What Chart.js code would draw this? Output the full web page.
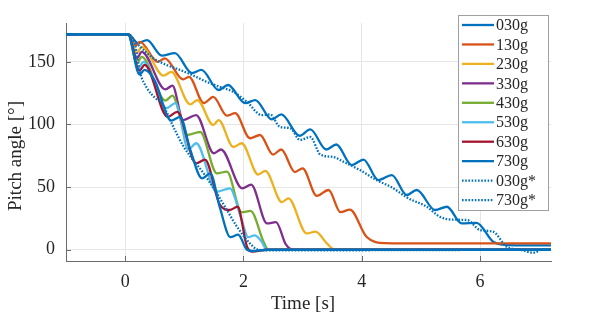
<!DOCTYPE html>
<html lang="en">
<head>
    <meta charset="UTF-8">
    <title>Pitch angle</title>
    <script src="https://cdn.jsdelivr.net/npm/chart.js"></script>
    <style>
        body { margin: 0; background: #fff; }
        canvas { display: block; }
    </style>
</head>
<body>
    <canvas id="pitchChart" width="598" height="315"></canvas>

    <script>
        // tick labels
        const xTicks = [0, 2, 4, 6];
        const yTicks = [0, 50, 100, 150];
        const names = ['030g', '130g', '230g', '330g', '430g', '530g', '630g', '730g', '030g*', '730g*'];

        // series: time [s] / pitch [deg]
        const t030 = [-1, 0.05, 0.22, 0.37, 0.62, 0.84, 1.13, 1.29, 1.58, 1.74, 2.03, 2.2, 2.48, 2.64, 2.95, 3.13, 3.4, 3.57, 3.83, 4.03, 4.28, 4.51, 4.76, 4.93, 5.24, 5.44, 5.69, 5.94, 6.22, 6.39, 6.6, 7.2];
        const p030 = [172, 172, 165, 167.4, 155, 157, 141, 143.5, 127.5, 131.5, 117, 119.5, 104, 108, 91, 96, 80, 84, 67.6, 72, 55.6, 59.6, 43.7, 47.7, 31.7, 34.3, 21, 21.5, 6.4, 4, 3.5, 3.5];

        const t130 = [-1, 0.05, 0.18, 0.25, 0.55, 0.67, 0.98, 1.08, 1.33, 1.49, 1.72, 1.86, 2.11, 2.28, 2.5, 2.64, 2.87, 3.0, 3.24, 3.44, 3.64, 3.8, 4.08, 4.4, 5.0, 7.2];
        const p130 = [172, 172, 163, 166, 150, 152.8, 136, 138, 117, 122, 107, 109, 89, 91.6, 76, 80, 62, 65, 43, 47.7, 30, 32, 10.4, 5.3, 5, 5];

        const t230 = [-1, 0.05, 0.2, 0.28, 0.65, 0.78, 1.1, 1.22, 1.49, 1.58, 1.83, 1.97, 2.25, 2.37, 2.65, 2.76, 3.07, 3.22, 3.41, 3.55, 3.7, 7.2];
        const p230 = [172, 172, 157, 162, 139, 142, 116, 119.5, 99.6, 103.5, 82, 85, 60, 63, 38, 41, 13, 14.5, 5, 0, 0, 0];

        const t330 = [-1, 0.05, 0.2, 0.28, 0.68, 0.8, 0.98, 1.2, 1.5, 1.62, 1.98, 2.13, 2.4, 2.55, 2.72, 2.85, 7.2];
        const p330 = [172, 172, 153, 158, 128, 131, 103.5, 107.5, 77, 80, 49, 52, 21, 22, 4, 0, 0];

        const t430 = [-1, 0.05, 0.2, 0.28, 0.68, 0.8, 1.04, 1.27, 1.55, 1.72, 1.97, 2.12, 2.34, 2.42, 7.2];
        const p430 = [172, 172, 149, 154, 119, 123, 91.6, 94, 61, 62.3, 30, 31, 6.4, 0, 0];

        const t530 = [-1, 0.05, 0.22, 0.31, 0.7, 0.85, 1.07, 1.2, 1.55, 1.77, 1.97, 2.08, 2.19, 2.3, 2.4, 7.2];
        const p530 = [172, 172, 145, 150, 113, 117, 80, 85, 46.3, 49, 23.7, 10, 11.5, 7, 0, 0];

        const t630 = [-1, 0.05, 0.24, 0.33, 0.72, 0.88, 1.2, 1.35, 1.6, 1.77, 1.9, 2.06, 2.15, 2.4, 7.2];
        const p630 = [172, 172, 143, 147.5, 106, 110, 69, 72, 36, 31.7, 34.3, 2.4, -1.5, 0, 0];

        const t730 = [-1, 0.05, 0.24, 0.33, 0.5, 0.78, 0.93, 1.1, 1.3, 1.44, 1.6, 1.78, 1.91, 2.06, 2.15, 2.4, 7.2];
        const p730 = [172, 172, 140, 143.5, 135, 103, 106, 80, 57, 61, 34, 10, 12, 0, -1, 0, 0];

        const t030s = [-1, 0.05, 0.17, 0.48, 0.7, 0.93, 1.13, 1.38, 1.6, 1.83, 2.06, 2.31, 2.45, 2.62, 2.79, 2.96, 3.13, 3.3, 3.52, 3.7, 3.97, 4.25, 4.5, 4.79, 5.1, 5.32, 5.55, 5.78, 6.0, 6.22, 6.45, 6.68, 6.9, 7.07, 7.2];
        const p030s = [172, 172, 166, 152.8, 147.5, 143.5, 139.5, 134, 130, 126, 118, 107.5, 108, 98, 97, 87.6, 90, 76, 74, 70, 63.6, 55.6, 50, 41, 34.3, 26.3, 24, 23.7, 15.7, 14.4, 2.4, 0, -2.4, 0.5, 0];

        const t730s = [-1, 0.05, 0.17, 0.25, 0.37, 0.51, 0.62, 0.84, 0.98, 1.15, 1.32, 1.55, 1.72, 1.89, 2.11, 2.25, 2.5, 7.2];
        const p730s = [172, 172, 163, 142, 129, 121, 117, 95.6, 83, 71.6, 61.5, 45, 31.7, 18.5, 5, 0, -0.5, 0];

        const times = [t030, t130, t230, t330, t430, t530, t630, t730, t030s, t730s];
        const pitches = [p030, p130, p230, p330, p430, p530, p630, p730, p030s, p730s];
        const colors = ['#0072BD', '#D95319', '#EDB120', '#7E2F8E', '#77AC30', '#4DBEEE', '#A2142F', '#0072BD', '#0072BD', '#0072BD'];
        const dotted = [false, false, false, false, false, false, false, false, true, true];

        const serif = '"Liberation Serif", "Times New Roman", serif';
        const ink = '#262626';
        const axisColor = '#6b6b6b';

        const datasets = names.map((name, i) => ({
            label: name,
            data: times[i].map((t, k) => ({ x: t, y: pitches[i][k] })),
            borderColor: colors[i],
            borderWidth: 2.3,
            borderDash: dotted[i] ? [1.6, 1.6] : [],
            pointRadius: 0,
            cubicInterpolationMode: 'monotone',
            fill: false,
            order: names.length - i
        }));

        // axis titles, inward ticks and the boxed legend
        const decor = {
            id: 'decor',
            beforeDatasetsDraw(chart) {
                const { ctx, chartArea: a, scales } = chart;
                ctx.save();
                ctx.strokeStyle = axisColor;
                ctx.lineWidth = 1;
                ctx.beginPath();
                xTicks.forEach(v => {
                    const x = Math.round(scales.x.getPixelForValue(v)) + 0.5;
                    ctx.moveTo(x, a.bottom);
                    ctx.lineTo(x, a.bottom - 5);
                });
                yTicks.forEach(v => {
                    const y = Math.round(scales.y.getPixelForValue(v)) + 0.5;
                    ctx.moveTo(a.left, y);
                    ctx.lineTo(a.left + 5, y);
                });
                ctx.stroke();
                ctx.restore();
            },
            afterDraw(chart) {
                const ctx = chart.ctx;
                ctx.save();
                ctx.fillStyle = ink;
                ctx.font = '19px ' + serif;
                ctx.textAlign = 'center';
                ctx.textBaseline = 'middle';
                ctx.fillText('Time [s]', 303, 304);
                ctx.translate(16, 156);
                ctx.rotate(-Math.PI / 2);
                ctx.fillText('Pitch angle [°]', 0, 0);
                ctx.restore();

                // legend
                const bx = 458.5, by = 15.5, bw = 90, bh = 195, step = 19.45;
                ctx.save();
                ctx.fillStyle = '#fff';
                ctx.fillRect(bx, by, bw, bh);
                ctx.strokeStyle = '#a0a0a0';
                ctx.lineWidth = 1;
                ctx.strokeRect(bx, by, bw, bh);
                ctx.font = '16px ' + serif;
                ctx.textBaseline = 'middle';
                ctx.textAlign = 'left';
                names.forEach((name, i) => {
                    const y = 25 + i * step;
                    ctx.strokeStyle = colors[i];
                    ctx.lineWidth = 2.3;
                    ctx.setLineDash(dotted[i] ? [1.6, 1.6] : []);
                    ctx.beginPath();
                    ctx.moveTo(462, y);
                    ctx.lineTo(494, y);
                    ctx.stroke();
                    ctx.fillStyle = ink;
                    ctx.fillText(name, 496, y + 1);
                });
                ctx.restore();
            }
        };

        const ctx = document.getElementById('pitchChart').getContext('2d');
        const pitchChart = new Chart(ctx, {
            type: 'line',
            data: { datasets: datasets },
            options: {
                responsive: false,
                animation: false,
                devicePixelRatio: 1,
                layout: { padding: { left: 0, top: 23, right: 47, bottom: 0 } },
                plugins: { legend: { display: false }, tooltip: { enabled: false } },
                scales: {
                    x: {
                        type: 'linear',
                        min: -1,
                        max: 7.2,
                        afterBuildTicks: axis => { axis.ticks = xTicks.map(v => ({ value: v })); },
                        afterFit: s => { s.height = 54; },
                        grid: { color: '#e6e6e6', drawTicks: false },
                        border: { color: axisColor, width: 1 },
                        ticks: { color: ink, font: { family: serif, size: 18 }, padding: 10, maxRotation: 0 }
                    },
                    y: {
                        type: 'linear',
                        min: -9,
                        max: 181,
                        afterBuildTicks: axis => { axis.ticks = yTicks.map(v => ({ value: v })); },
                        afterFit: s => { s.width = 66; },
                        grid: { color: '#e6e6e6', drawTicks: false },
                        border: { color: axisColor, width: 1 },
                        ticks: { color: ink, font: { family: serif, size: 18 }, padding: 11 }
                    }
                }
            },
            plugins: [decor]
        });
    </script>
</body>
</html>
